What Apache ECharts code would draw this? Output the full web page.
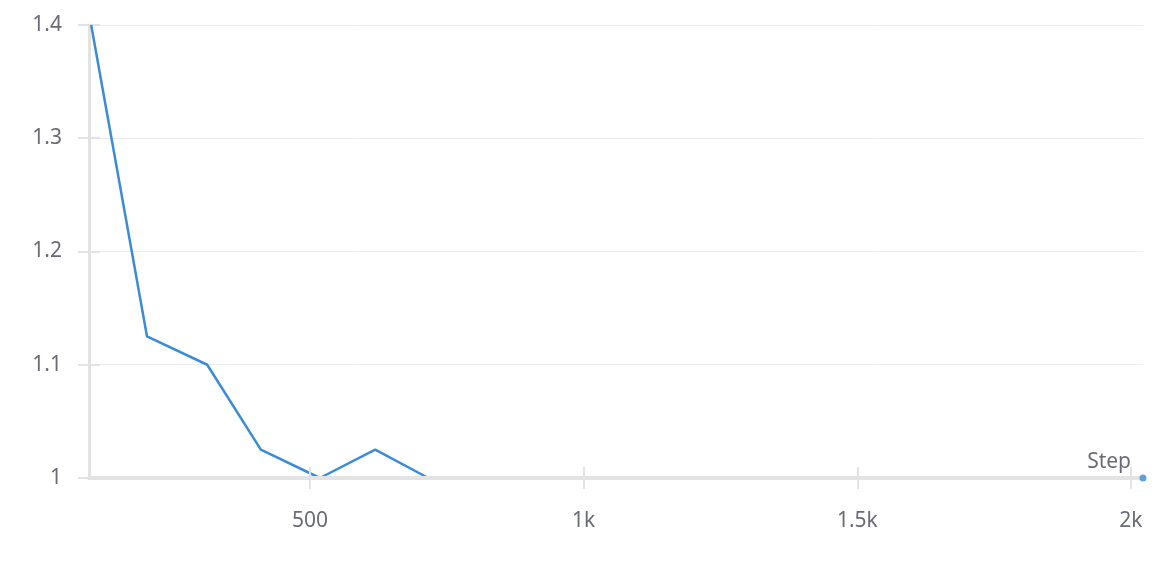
<!DOCTYPE html>
<html>
<head>
<meta charset="utf-8">
<script src="https://cdn.jsdelivr.net/npm/echarts@6/dist/echarts.min.js"></script>
<style>
  html, body { margin: 0; padding: 0; background: #fff; }
  #main { width: 1163px; height: 561px; }
</style>
</head>
<body>
<div id="main"></div>
<script>
  // values
  const steps = [100, 202, 312, 410, 518, 619, 716, 820, 1020, 1220, 1420, 1620, 1820, 2022]
  const loss = [1.4, 1.125, 1.1, 1.025, 1.0, 1.025, 1.0, 1.0, 1.0, 1.0, 1.0, 1.0, 1.0, 1.0]
  const xTicks = [500, 1000, 1500, 2000]
  const lastPoint = [2022, 1.0]

  const fontFamily = 'Noto Sans'
  const axisGrey = '#e3e3e3'
  const textGrey = '#6b6b78'

  let chart = echarts.init(document.getElementById('main'))
  chart.setOption({
    animation: false,
    grid: { left: 89, right: 20, top: 25, bottom: 83, containLabel: false },
    xAxis: [
      {
        type: 'value',
        min: 96,
        max: 2022,
        z: 4,
        name: 'Step',
        nameLocation: 'end',
        nameGap: -12,
        nameTextStyle: { color: textGrey, fontSize: 21, fontFamily: fontFamily, align: 'right', verticalAlign: 'bottom', padding: [0, 0, 5, 0] },
        axisLine: { show: true, lineStyle: { color: axisGrey, width: 4 } },
        axisTick: { show: true, length: 11, customValues: xTicks, lineStyle: { color: axisGrey, width: 2 } },
        axisLabel: {
          customValues: xTicks,
          margin: 33,
          color: textGrey,
          fontSize: 21,
          fontFamily: fontFamily,
          formatter: v => v >= 1000 ? (v / 1000) + 'k' : String(v)
        },
        splitLine: { show: false }
      },
      {
        type: 'value',
        position: 'bottom',
        min: 96,
        max: 2022,
        z: 4,
        axisLine: { show: false },
        axisTick: { show: true, inside: true, length: 11, customValues: xTicks, lineStyle: { color: axisGrey, width: 2 } },
        axisLabel: { show: false },
        splitLine: { show: false }
      }
    ],
    yAxis: [
      {
        type: 'value',
        min: 1,
        max: 1.4,
        interval: 0.1,
        axisLine: { show: true, lineStyle: { color: axisGrey, width: 3 } },
        axisTick: { show: true, length: 11, lineStyle: { color: axisGrey, width: 2 } },
        axisLabel: {
          margin: 27,
          color: textGrey,
          fontSize: 21,
          fontFamily: fontFamily,
          formatter: v => String(Math.round(v * 10) / 10)
        },
        splitLine: { show: true, lineStyle: { color: '#ececec', width: 1 } }
      },
      {
        type: 'value',
        position: 'left',
        min: 1,
        max: 1.4,
        interval: 0.1,
        axisLine: { show: false },
        axisTick: { show: true, inside: true, length: 11, lineStyle: { color: axisGrey, width: 2 } },
        axisLabel: { show: false },
        splitLine: { show: false }
      }
    ],
    series: [
      {
        name: 'loss',
        type: 'line',
        data: steps.map((s, i) => [s, loss[i]]),
        symbol: 'none',
        lineStyle: { color: '#3a8cd8', width: 2.5 },
        z: 2
      },
      {
        name: 'last',
        type: 'scatter',
        data: [lastPoint],
        symbol: 'circle',
        symbolSize: 7,
        itemStyle: { color: '#3a8cd8' },
        z: 6
      }
    ]
  })
</script>
</body>
</html>
